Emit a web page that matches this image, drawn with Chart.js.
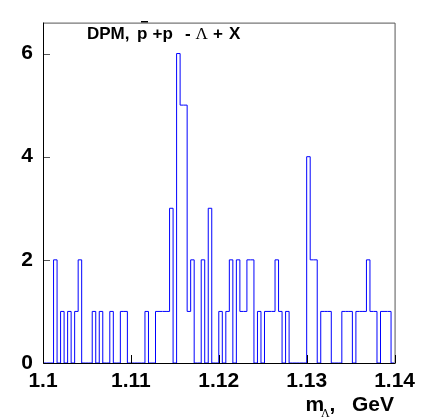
<!DOCTYPE html>
<html>
<head>
<meta charset="utf-8">
<script src="https://cdn.jsdelivr.net/npm/chart.js@4.4.1/dist/chart.umd.min.js"></script>
<style>
  html, body { margin: 0; padding: 0; background: #fff; }
  canvas { display: block; }
</style>
</head>
<body>
<canvas id="hist" width="421" height="418"></canvas>
<script>
// Lambda invariant mass from DPM events, 100 bins of 0.4 MeV between 1.1 and 1.14 GeV
const binLow = 1.1;
const binWidth = 0.0004;
const counts = [
  0, 0, 0, 2, 0, 1, 0, 1, 0, 1,
  2, 0, 0, 0, 1, 0, 1, 0, 0, 1,
  0, 0, 1, 1, 0, 0, 0, 0, 0, 1,
  0, 0, 1, 1, 1, 1, 3, 0, 6, 5,
  5, 1, 2, 0, 0, 2, 0, 3, 0, 0,
  1, 0, 1, 2, 0, 2, 1, 1, 2, 2,
  0, 1, 0, 1, 1, 1, 2, 1, 0, 1,
  0, 0, 0, 0, 0, 4, 2, 2, 0, 1,
  1, 1, 0, 0, 0, 1, 1, 1, 0, 1,
  1, 1, 2, 1, 1, 0, 1, 1, 1, 0
];
const xTicks = [1.1, 1.11, 1.12, 1.13, 1.14];
const yTicks = [0, 2, 4, 6];
const yMax = 6.6;

const labelFont = { family: '"Liberation Sans", Arial, sans-serif', size: 21, weight: 'bold' };

// left bin edge + content, closed at the upper edge so the step falls back to zero
const steps = counts.map((c, i) => ({ x: binLow + i * binWidth, y: c }));
steps.push({ x: binLow + counts.length * binWidth, y: 0 });

// frame, inward tick marks and the texts drawn over the histogram
const framePlugin = {
  id: 'frame',
  afterDatasetsDraw(chart) {
    const { ctx, chartArea: a, scales } = chart;
    ctx.save();
    ctx.lineWidth = 1;

    ctx.strokeStyle = '#555';
    ctx.beginPath();
    ctx.moveTo(a.left, a.top + 0.5);
    ctx.lineTo(a.right + 0.5, a.top + 0.5);
    ctx.lineTo(a.right + 0.5, a.bottom);
    ctx.stroke();

    // y ticks
    yTicks.forEach(v => {
      const py = Math.round(scales.y.getPixelForValue(v)) + 0.5;
      ctx.beginPath();
      ctx.moveTo(a.left, py);
      ctx.lineTo(a.left + 7, py);
      ctx.stroke();
    });

    ctx.strokeStyle = '#000';
    ctx.beginPath();
    ctx.moveTo(a.left + 0.5, a.top);
    ctx.lineTo(a.left + 0.5, a.bottom + 0.5);
    ctx.lineTo(a.right + 1, a.bottom + 0.5);
    ctx.stroke();

    xTicks.forEach(v => {
      const px = Math.round(scales.x.getPixelForValue(v)) + 0.5;
      ctx.beginPath();
      ctx.moveTo(px, a.bottom);
      ctx.lineTo(px, a.bottom - 8);
      ctx.stroke();
    });

    ctx.fillStyle = '#000';
    ctx.textBaseline = 'alphabetic';
    ctx.textAlign = 'left';

    // DPM, pbar + p -> Lambda + X
    const bold17 = 'bold 17px "Liberation Sans", Arial, sans-serif';
    ctx.font = bold17;
    ctx.fillText('DPM,', 87, 39);
    ctx.fillText('p', 137, 39);
    ctx.fillRect(141, 21, 7, 1.5);
    ctx.fillText('+p', 152.5, 39);
    ctx.fillText('-', 185, 39);
    ctx.font = '17px "Liberation Serif", "DejaVu Serif", serif';
    ctx.fillText('\u039B', 195.5, 39);
    ctx.font = bold17;
    ctx.fillText('+', 213, 39);
    ctx.fillText('X', 229, 39);

    // axis title m_Lambda, GeV
    ctx.font = 'bold 21px "Liberation Sans", Arial, sans-serif';
    ctx.fillText('m', 305.5, 411);
    ctx.font = '12px "Liberation Serif", "DejaVu Serif", serif';
    ctx.fillText('\u039B', 321, 417);
    ctx.font = 'bold 21px "Liberation Sans", Arial, sans-serif';
    ctx.fillText(',', 329.5, 411);
    ctx.textAlign = 'right';
    ctx.fillText('GeV', 394, 411);

    ctx.restore();
  }
};

new Chart(document.getElementById('hist'), {
  type: 'line',
  data: {
    datasets: [{
      data: steps,
      stepped: true,
      borderColor: '#0000ff',
      borderWidth: 1,
      pointRadius: 0,
      fill: false
    }]
  },
  options: {
    responsive: false,
    devicePixelRatio: 1,
    animation: false,
    layout: { padding: { top: 12, right: 26, left: 0, bottom: 0 } },
    plugins: { legend: { display: false }, tooltip: { enabled: false } },
    scales: {
      x: {
        type: 'linear',
        min: binLow,
        max: 1.14,
        grid: { display: false, drawTicks: false },
        border: { display: false },
        afterBuildTicks: s => { s.ticks = xTicks.map(v => ({ value: v })); },
        afterFit: s => { s.height = 55; },
        ticks: {
          padding: 6,
          color: '#000',
          font: labelFont,
          maxRotation: 0,
          callback: v => String(Number(v.toFixed(2)))
        }
      },
      y: {
        min: 0,
        max: yMax,
        grid: { display: false, drawTicks: false },
        border: { display: false },
        afterBuildTicks: s => { s.ticks = yTicks.map(v => ({ value: v })); },
        afterFit: s => { s.width = 43; },
        ticks: {
          padding: 10,
          color: '#000',
          font: labelFont,
          callback: v => String(v)
        }
      }
    }
  },
  plugins: [framePlugin]
});
</script>
</body>
</html>
